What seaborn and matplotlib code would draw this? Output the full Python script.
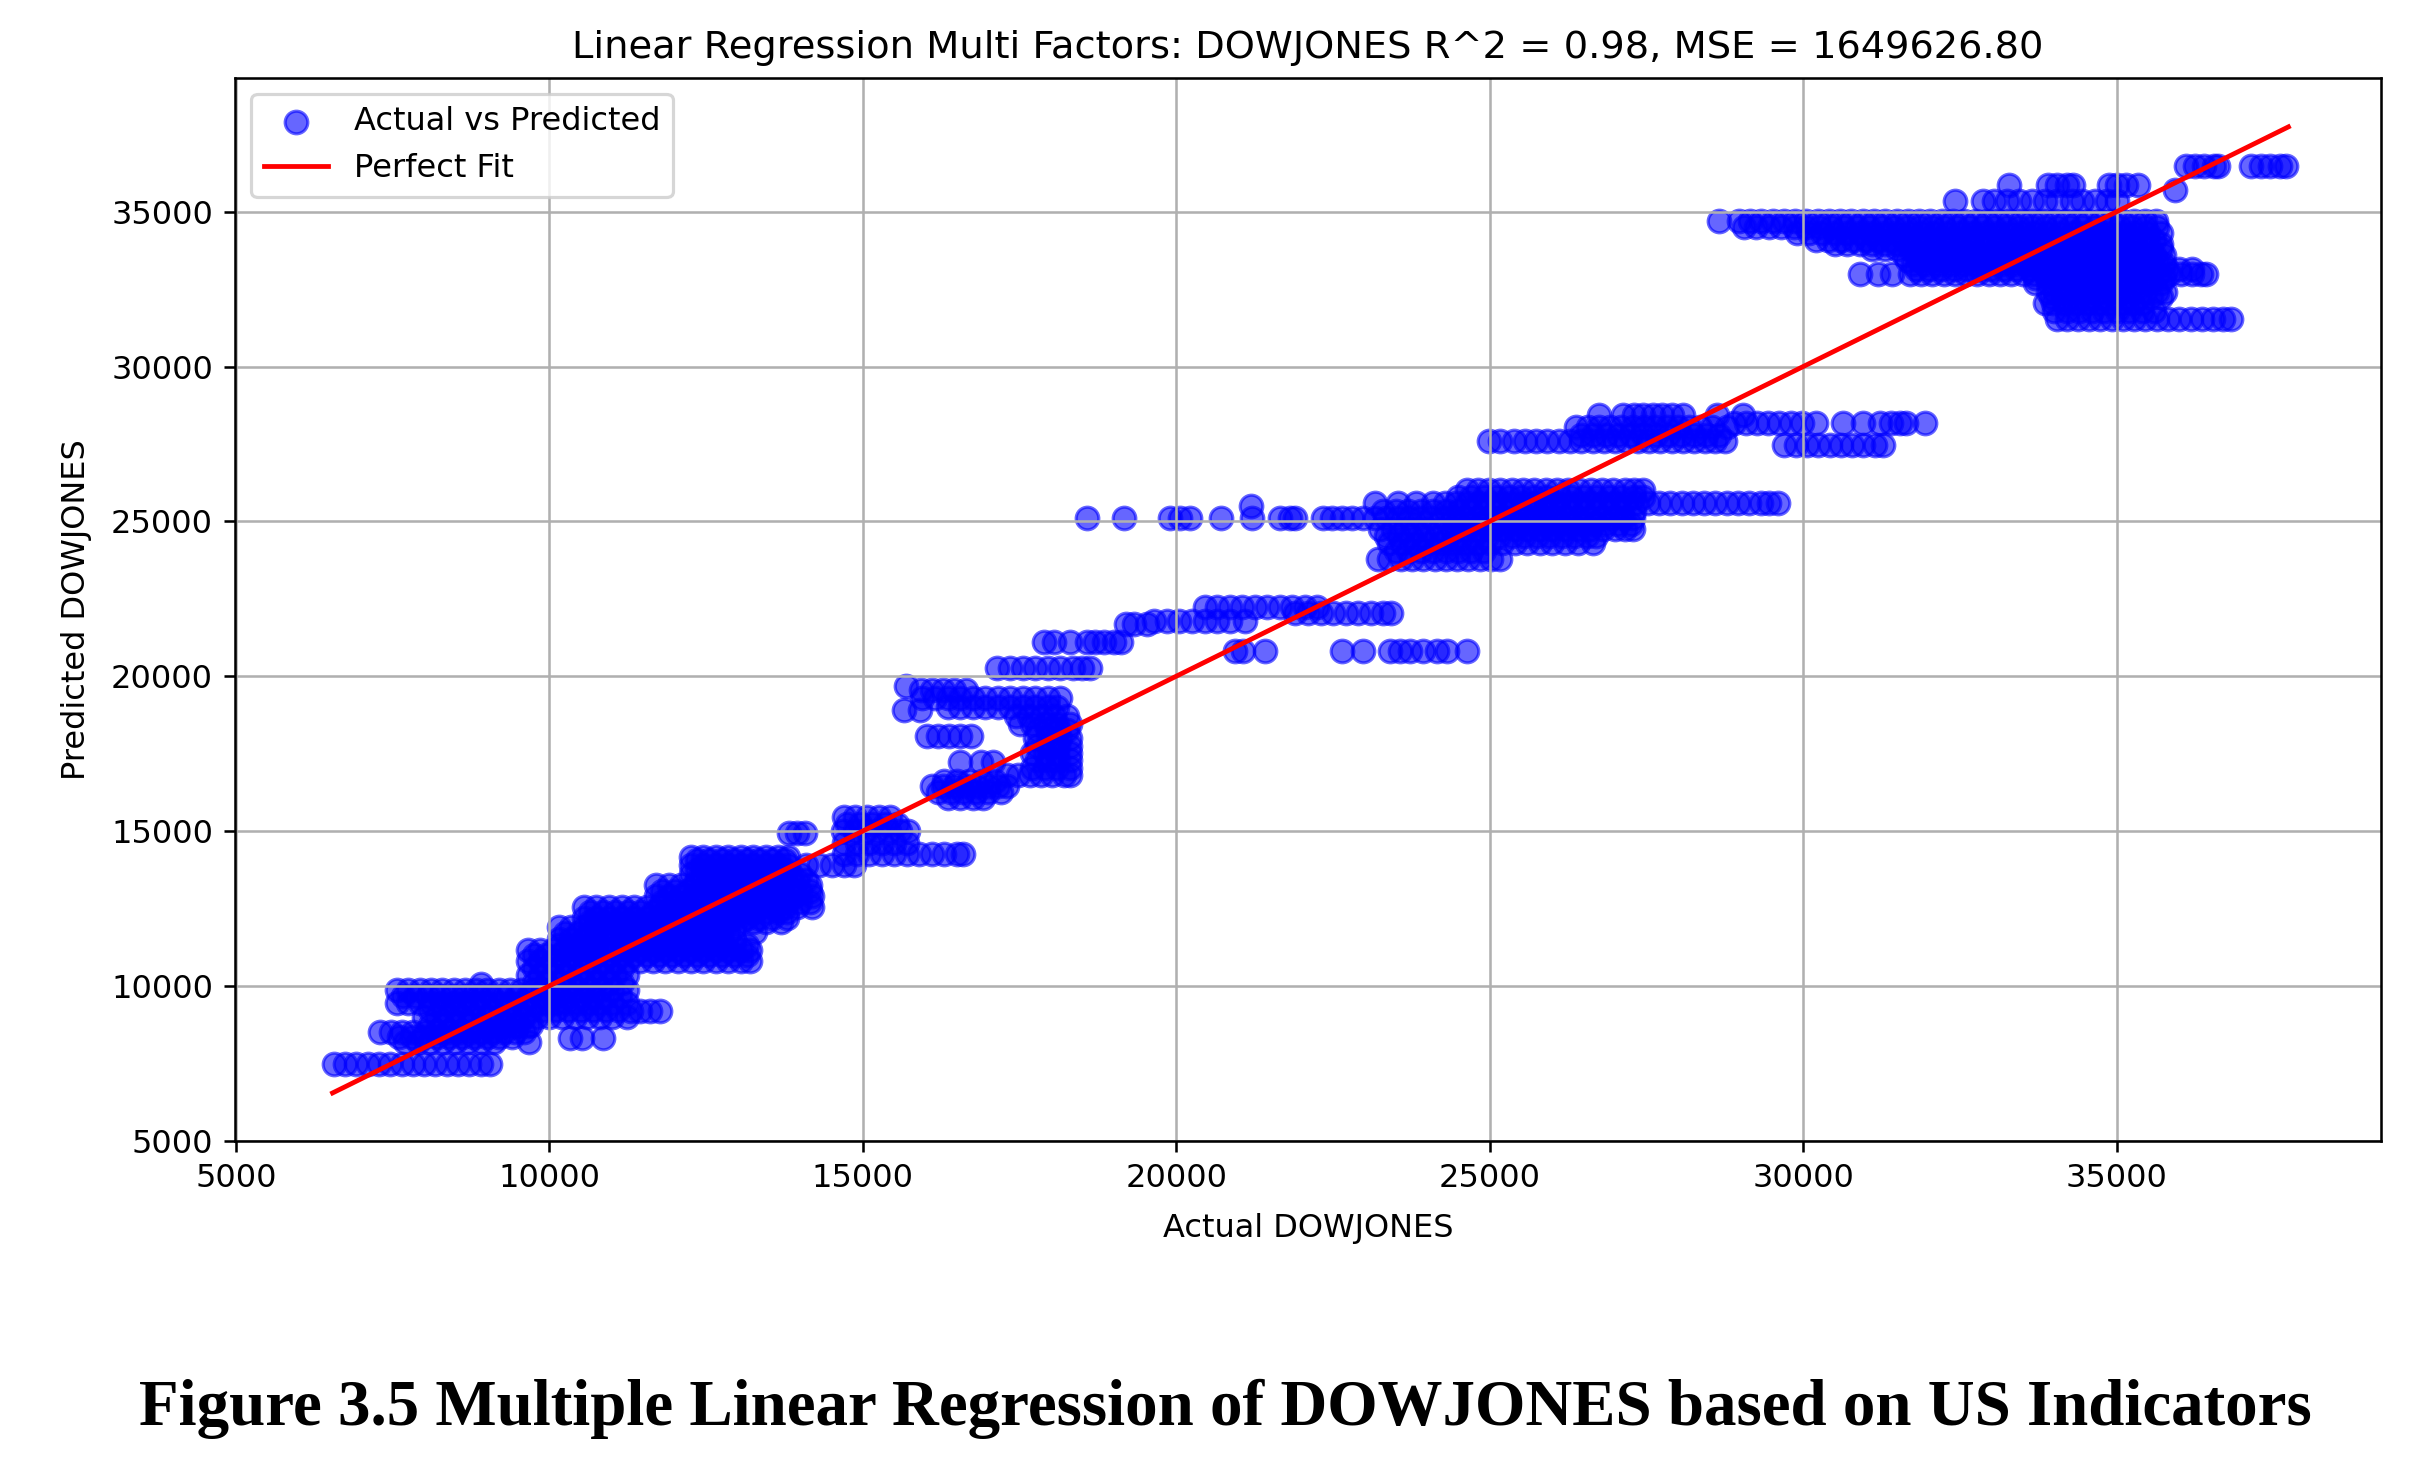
import matplotlib
matplotlib.use("Agg")
import matplotlib.pyplot as plt
import seaborn as sns
import pandas as pd

# ---------------- data ----------------
# each entry: (predicted DOWJONES level, list of actual DOWJONES values on that level)
cluster_low = [
    (7480, [6560, 6740, 6920, 7100, 7280, 7460, 7640, 7820, 8000, 8180, 8360, 8540, 8720, 8900, 9050]),
    (8180, [7700, 7900, 8100, 8300, 8500, 8700, 8900, 9120, 9670]),
    (8340, [7600, 7800, 8000, 8200, 8400, 8600, 8800, 9000, 9200, 9400]),
    (8500, [7290, 7470, 7650, 7830, 8010, 8190, 8370, 8550, 8730, 8910, 9090, 9270, 9450, 9600]),
    (8700, [9250, 9450, 9650]),
    (8750, [8100, 8300, 8500, 8700, 8900, 9100, 9300, 9500, 9700]),
    (8330, [10330, 10520, 10860]),
    (9000, [8000, 8200, 8400, 8600, 8800, 9000, 9200, 9400, 9600, 9800, 10000, 10200, 10400,
            10600, 10800, 11000, 11230]),
    (9200, [11300, 11450, 11600, 11770]),
    (9230, [8100, 8300, 8500, 8700, 8900, 9100, 9300, 9500, 9700, 9900, 10100, 10300, 10500,
            10700, 10900, 11100]),
    (9450, [7570, 7750, 7930, 8110, 8290, 8470, 8650, 8830, 9010, 9190, 9370, 9550, 9730, 9910,
            10090, 10270, 10450, 10630, 10810, 10990, 11230]),
    (9660, [7660, 7860, 8060, 8260, 8460, 8660, 8860, 9060, 9260, 9460, 9660, 9860, 10060, 10260,
            10460, 10660, 10860, 11130]),
    (9870, [7570, 7750, 7930, 8110, 8290, 8470, 8650, 8830, 9010, 9190, 9370, 9550, 9730, 9910,
            10090, 10270, 10450, 10630, 10810, 10990, 11230]),
    (10050, [8900]),
    (10100, [9750, 9950, 10150, 10350, 10550, 10750, 10950, 11150]),
    (10350, [9650, 9850, 10050, 10250, 10450, 10650, 10850, 11050, 11230]),
    (10580, [9750, 9950, 10150, 10350, 10550, 10750, 10950, 11150]),
    (10800, [9650, 9850, 10050, 10250, 10450, 10650, 10850, 11050, 11250, 11450, 11650, 11850,
             12050, 12250, 12450, 12650, 12850, 13050, 13200]),
    (10980, [9750, 9950, 10150, 10350, 10550, 10750, 10950, 11150, 11350, 11550, 11750, 11950,
             12150, 12350, 12550, 12750, 12950, 13150]),
    (11150, [9650, 9850, 10050, 10250, 10450, 10650, 10850, 11050, 11250, 11450, 11650, 11850,
             12050, 12250, 12450, 12650, 12850, 13050, 13200]),
    (11330, [10150, 10350, 10550, 10750, 10950, 11150, 11350, 11550, 11750, 11950, 12150, 12350,
             12550, 12750, 12950, 13150]),
    (11500, [10150, 10350, 10550, 10750, 10950, 11150, 11350, 11550, 11750, 11950, 12150, 12350,
             12550, 12750, 12950]),
    (11700, [10250, 10450, 10650, 10850, 11050, 11250, 11450, 11650, 11850, 12050, 12250, 12450,
             12650, 12850]),
    (11750, [13280]),
    (11900, [10150, 10350, 10550, 10750, 10950, 11150, 11350, 11550, 11750, 11950, 12150, 12350,
             12550, 12750, 12950]),
    (12050, [10650, 10850, 11050, 11250, 11450, 11650, 11850, 12050, 12250, 12450, 12650, 12850,
             13050, 13250, 13450, 13700]),
    (12200, [10550, 10750, 10950, 11150, 11350, 11550, 11750, 11950, 12150, 12350, 12550, 12750,
             12950, 13150, 13350, 13550, 13790]),
    (12380, [10650, 10850, 11050, 11250, 11450, 11650, 11850, 12050, 12250, 12450, 12650, 12850,
             13050, 13250, 13450, 13650, 13790]),
    (12550, [10550, 10750, 10950, 11150, 11350, 11550, 11750, 11950, 12150, 12350, 12550, 12750,
             12950, 13150, 13350, 13550, 13750, 13950, 14180]),
    (12720, [11800, 12000, 12200, 12400, 12600, 12800, 13000, 13200, 13400, 13600, 13800, 14000, 14150]),
    (12900, [11700, 11900, 12100, 12300, 12500, 12700, 12900, 13100, 13300, 13500, 13700, 13900, 14180]),
    (13070, [11800, 12000, 12200, 12400, 12600, 12800, 13000, 13200, 13400, 13600, 13800, 14000, 14150]),
    (13250, [11700, 11900, 12100, 12300, 12500, 12700, 12900, 13100, 13300, 13500, 13700, 13900, 14150]),
    (13420, [12350, 12550, 12750, 12950, 13150, 13350, 13550, 13750, 13950, 14100]),
    (13600, [12250, 12450, 12650, 12850, 13050, 13250, 13450, 13650, 13850, 14000]),
    (13750, [12350, 12550, 12750, 12950, 13150, 13350, 13550, 13750]),
    (13900, [12250, 12450, 12650, 12850, 13050, 13250, 13450, 13650, 13800, 14100, 14300, 14500,
             14700, 14850]),
    (14050, [12350, 12550, 12750, 12950, 13150, 13350, 13550, 13750]),
    (14160, [12250, 12450, 12650, 12850, 13050, 13250, 13450, 13650, 13800]),
    (14950, [13820, 13950, 14080]),
]

cluster_mid = [
    (14250, [14700, 14900, 15100, 15300, 15500, 15700, 15900, 16100, 16300, 16500, 16600]),
    (14620, [14700, 14900, 15100, 15300, 15500, 15700]),
    (15000, [14690, 14870, 15050, 15230, 15410, 15590, 15720]),
    (15230, [14750, 14950, 15150, 15350, 15550]),
    (15450, [14700, 14880, 15060, 15250, 15430]),
    (16050, [16350, 16550, 16750, 16920]),
    (16250, [16200, 16400, 16600, 16800, 17000, 17200]),
    (16450, [16100, 16280, 16460, 16640, 16820, 17000, 17150, 17300]),
    (16620, [16300, 16500, 16700, 16900, 17100]),
    (16800, [17300, 17480, 17660, 17840, 18020, 18200, 18300]),
    (17050, [17700, 17900, 18100, 18300]),
    (17220, [16550, 16880, 17080]),
    (17300, [17780, 17950, 18120, 18300]),
    (17520, [17700, 17900, 18100, 18300]),
    (17750, [17780, 17950, 18120, 18300]),
    (18000, [17750, 17950, 18150, 18300]),
    (18080, [16030, 16200, 16370, 16550, 16730]),
    (18250, [17780, 17950, 18120, 18250]),
    (18450, [17500, 17700, 17900, 18100, 18300]),
    (18700, [17450, 17650, 17850, 18050, 18250]),
    (18910, [15650, 15910]),
    (19000, [16350, 16550, 16750, 16950, 17150, 17350, 17550, 17750, 17950, 18090]),
    (19280, [15950, 16150, 16350, 16550, 16750, 16950, 17150, 17350, 17550, 17750, 17950, 18150]),
    (19550, [15920, 16100, 16280, 16460, 16650]),
    (19690, [15680]),
    (20250, [17140, 17350, 17550, 17750, 17950, 18150, 18350, 18500, 18620]),
    (21100, [17890, 18050, 18300, 18570, 18700, 18850, 19000, 19120]),
    (21700, [19200, 19330, 19530]),
    (21780, [19650, 19850, 20050, 20250, 20450, 20650, 20850, 21100]),
    (22250, [20450, 20650, 20850, 21050, 21250, 21450, 21650, 21850, 22050, 22250]),
    (22050, [21900, 22100, 22300, 22500, 22700, 22900, 23100, 23300, 23430]),
    (20800, [20940, 21070, 21410, 22640, 22980, 23410, 23570, 23730, 23940, 24150, 24310, 24630]),
]

cluster_upper = [
    (25100, [18580, 19170, 19900, 20060, 20220, 20710, 21200, 21650, 21810, 21890, 22340, 22480,
             22640, 22800, 22980, 23170, 23350, 23530, 23710, 23890, 24070, 24250, 24430, 24610,
             24790, 24970, 25150, 25330, 25510, 25690, 25870, 26050, 26230, 26410, 26590, 26770,
             26950, 27130, 27290]),
    (25480, [21190]),
    (25350, [23300, 23500, 23700, 23900, 24100, 24300, 24500, 24700, 24900, 25100, 25300, 25500,
             25700, 25900, 26100, 26300, 26500, 26700, 26900, 27100, 27300]),
    (25600, [23170, 23540, 23830, 24100, 24280, 24460, 24640, 24820, 25000, 25180, 25360, 25540,
             25720, 25900, 26080, 26260, 26440, 26620, 26800, 26980, 27160, 27340, 27520, 27700,
             27880, 28060, 28240, 28420, 28600, 28780, 28960, 29140, 29320, 29450, 29600]),
    (25800, [24500, 24700, 24900, 25100, 25300, 25500, 25700, 25900, 26100, 26300, 26500, 26700,
             26900, 27100, 27300, 27450]),
    (26000, [24630, 24810, 24990, 25170, 25350, 25530, 25710, 25890, 26070, 26250, 26430, 26610,
             26790, 26970, 27150, 27300, 27450]),
    (24920, [24450, 24650, 24850, 25050, 25250, 25450, 25650, 25850, 26050, 26250, 26450, 26650,
             26850, 27050, 27250]),
    (24750, [23250, 23450, 23650, 23830, 24000, 24200, 24400, 24600, 24800, 25000, 25200, 25400,
             25600, 25800, 26000, 26200, 26400, 26600, 26800, 27000, 27150, 27290]),
    (24520, [23350, 23550, 23750, 23950, 24150, 24350, 24550, 24750, 24950, 25150, 25350, 25550,
             25750, 25950, 26150, 26350, 26550, 26700]),
    (24300, [23400, 23600, 23800, 24000, 24200, 24400, 24600, 24800, 25000, 25200, 25400, 25600,
             25800, 26000, 26200, 26400, 26650]),
    (24050, [23500, 23700, 23900, 24100, 24300, 24500, 24700, 24900]),
    (23800, [23220, 23400, 23580, 23760, 23940, 24120, 24300, 24480, 24660, 24840, 25020, 25160]),
    (27580, [24980, 25160, 25380, 25560, 25740, 25920, 26100, 26280, 26460, 26640, 26820, 27000,
             27180, 27360, 27540, 27720, 27900, 28080, 28260, 28440, 28600, 28750]),
    (27800, [26450, 26650, 26850, 27050, 27250, 27450, 27650, 27850, 28050, 28250, 28450, 28650]),
    (28050, [26380, 26560, 26740, 26920, 27100, 27280, 27460, 27640, 27820, 28000, 28180, 28360,
             28540, 28780]),
    (28450, [26750, 27130, 27300, 27450, 27600, 27750, 27900, 28080, 28620, 29040]),
    (28170, [28900, 29080, 29260, 29440, 29620, 29800, 29980, 30200, 30640, 30960, 31220, 31400,
             31550, 31640, 31940]),
    (27470, [29700, 29880, 30060, 30240, 30420, 30600, 30780, 30960, 31140, 31270]),
]

cluster_top = [
    (34700, [28650, 28970, 29150, 29330, 29510, 29690, 29870, 30050, 30230, 30410, 30590, 30770,
             30950, 31130, 31310, 31490, 31670, 31850, 32030, 32210, 32390, 32570, 32750, 32930,
             33110, 33290, 33470, 33650, 33830, 34010, 34190, 34370, 34550, 34730, 34910, 35090,
             35270, 35450, 35620]),
    (34500, [29050, 29250, 29450, 29650, 29850, 30050, 30250, 30450, 30650, 30850, 31050, 31250,
             31450, 31650, 31850, 32050, 32250, 32450, 32650, 32850, 33050, 33250, 33450, 33650,
             33850, 34050, 34250, 34450, 34650, 34850, 35050, 35250, 35450, 35650]),
    (34300, [29900, 30100, 30300, 30500, 30700, 30900, 31100, 31300, 31500, 31700, 31900, 32100,
             32300, 32500, 32700, 32900, 33100, 33300, 33500, 33700, 33900, 34100, 34300, 34500,
             34700, 34900, 35100, 35300, 35500, 35700]),
    (34100, [30200, 30400, 30600, 30800, 31000, 31200, 31400, 31600, 31800, 32000, 32200, 32400,
             32600, 32800, 33000, 33200, 33400, 33600, 33800, 34000, 34200, 34400, 34600, 34800,
             35000, 35200, 35400, 35600]),
    (33950, [30500, 30700, 30900, 31100, 31300, 31500, 31700, 31900, 32100, 32300, 32500, 32700,
             32900, 33100, 33300, 33500, 33700, 33900, 34100, 34300, 34500, 34700, 34900, 35100,
             35300, 35500, 35700]),
    (33780, [31100, 31300, 31500, 31700, 31900, 32100, 32300, 32500, 32700, 32900, 33100, 33300,
             33500, 33700, 33900, 34100, 34300, 34500, 34700, 34900, 35100, 35300, 35500, 35700]),
    (33600, [31600, 31800, 32000, 32200, 32400, 32600, 32800, 33000, 33200, 33400, 33600, 33800,
             34000, 34200, 34400, 34600, 34800, 35000, 35200, 35400, 35600, 35750]),
    (33450, [31650, 31850, 32050, 32250, 32450, 32650, 32850, 33050, 33250, 33450, 33650, 33850,
             34050, 34250, 34450, 34650, 34850, 35050, 35250, 35450, 35650]),
    (33300, [31750, 31950, 32150, 32350, 32550, 32750, 32950, 33150, 33350, 33550, 33750, 33950,
             34150, 34350, 34550, 34750, 34950, 35150, 35350, 35550, 35750]),
    (33150, [31800, 32000, 32200, 32400, 32600, 32800, 33000, 33200, 33400, 33600, 33800, 34000,
             34200, 34400, 34600, 34800, 35000, 35200, 35400, 35600, 35800, 36000, 36200]),
    (33000, [30910, 31200, 31410, 31700, 31880, 32060, 32240, 32420, 32600, 32780, 32960, 33140,
             33320, 33500, 33680, 33860, 34040, 34220, 34400, 34580, 34760, 34940, 35120, 35300,
             35480, 35660, 35840, 36020, 36200, 36340, 36430]),
    (32850, [33700, 33900, 34100, 34300, 34500, 34700, 34900, 35100, 35300, 35500, 35750]),
    (32700, [33700, 33900, 34100, 34300, 34500, 34700, 34900, 35100, 35300, 35500, 35700]),
    (32420, [33900, 34020, 34200, 34380, 34560, 34740, 34920, 35100, 35280, 35460, 35640, 35770]),
    (32250, [33950, 34150, 34350, 34550, 34750, 34950, 35150, 35350, 35550, 35700]),
    (32040, [33850, 33980, 34160, 34340, 34520, 34700, 34880, 35060, 35240, 35400]),
    (31800, [34000, 34200, 34400, 34600, 34800, 35000, 35200, 35400, 35600]),
    (31540, [34050, 34200, 34380, 34560, 34740, 34920, 35100, 35280, 35460, 35640, 35820, 36000,
             36180, 36360, 36540, 36700, 36830]),
    (35350, [32420, 32870, 33050, 33250, 33450, 33650, 33850, 34050, 34280, 34450, 34650, 34850, 35000]),
    (35850, [33280, 33900, 34050, 34200, 34300, 34880, 35000, 35150, 35340]),
    (35700, [35930]),
    (36470, [36100, 36250, 36400, 36560, 36620, 37140, 37300, 37450, 37600, 37700]),
]

fit_line = [6540, 37740]  # min and max of actual DOWJONES

title_text = "Linear Regression Multi Factors: DOWJONES R^2 = 0.98, MSE = 1649626.80"
caption_text = "Figure 3.5 Multiple Linear Regression of DOWJONES based on US Indicators"

# ---------------- build table ----------------
actual, predicted = [], []
for cluster in (cluster_low, cluster_mid, cluster_upper, cluster_top):
    for level, xs in cluster:
        actual.extend(xs)
        predicted.extend([level] * len(xs))
df = pd.DataFrame({"Actual": actual, "Predicted": predicted})
line_df = pd.DataFrame({"x": fit_line, "y": fit_line})

# ---------------- plot ----------------
DPI = 230
fig = plt.figure(figsize=(2412 / DPI, 1476 / DPI), dpi=DPI)
ax = fig.add_axes([0.0976, 0.2270, 0.8895, 0.7204])

sns.scatterplot(data=df, x="Actual", y="Predicted", color="blue", alpha=0.6, s=50,
                edgecolor="blue", linewidth=1.0, label="Actual vs Predicted", ax=ax)
sns.lineplot(data=line_df, x="x", y="y", color="red", linewidth=1.5,
             label="Perfect Fit", ax=ax)

ax.set_xlim(4990, 39215)
ax.set_ylim(4990, 39330)
ax.set_title(title_text, fontsize=12)
ax.set_xlabel("Actual DOWJONES", fontsize=10, labelpad=6)
ax.set_ylabel("Predicted DOWJONES", fontsize=10, labelpad=6)
ax.grid(True)
ax.legend(loc="upper left", fontsize=10)

fig.text(0.508, 0.0345, caption_text, ha="center", va="baseline",
         fontsize=20.3, fontweight="bold", family=["Liberation Serif", "DejaVu Serif"])

fig.savefig("out.png", dpi=DPI)
